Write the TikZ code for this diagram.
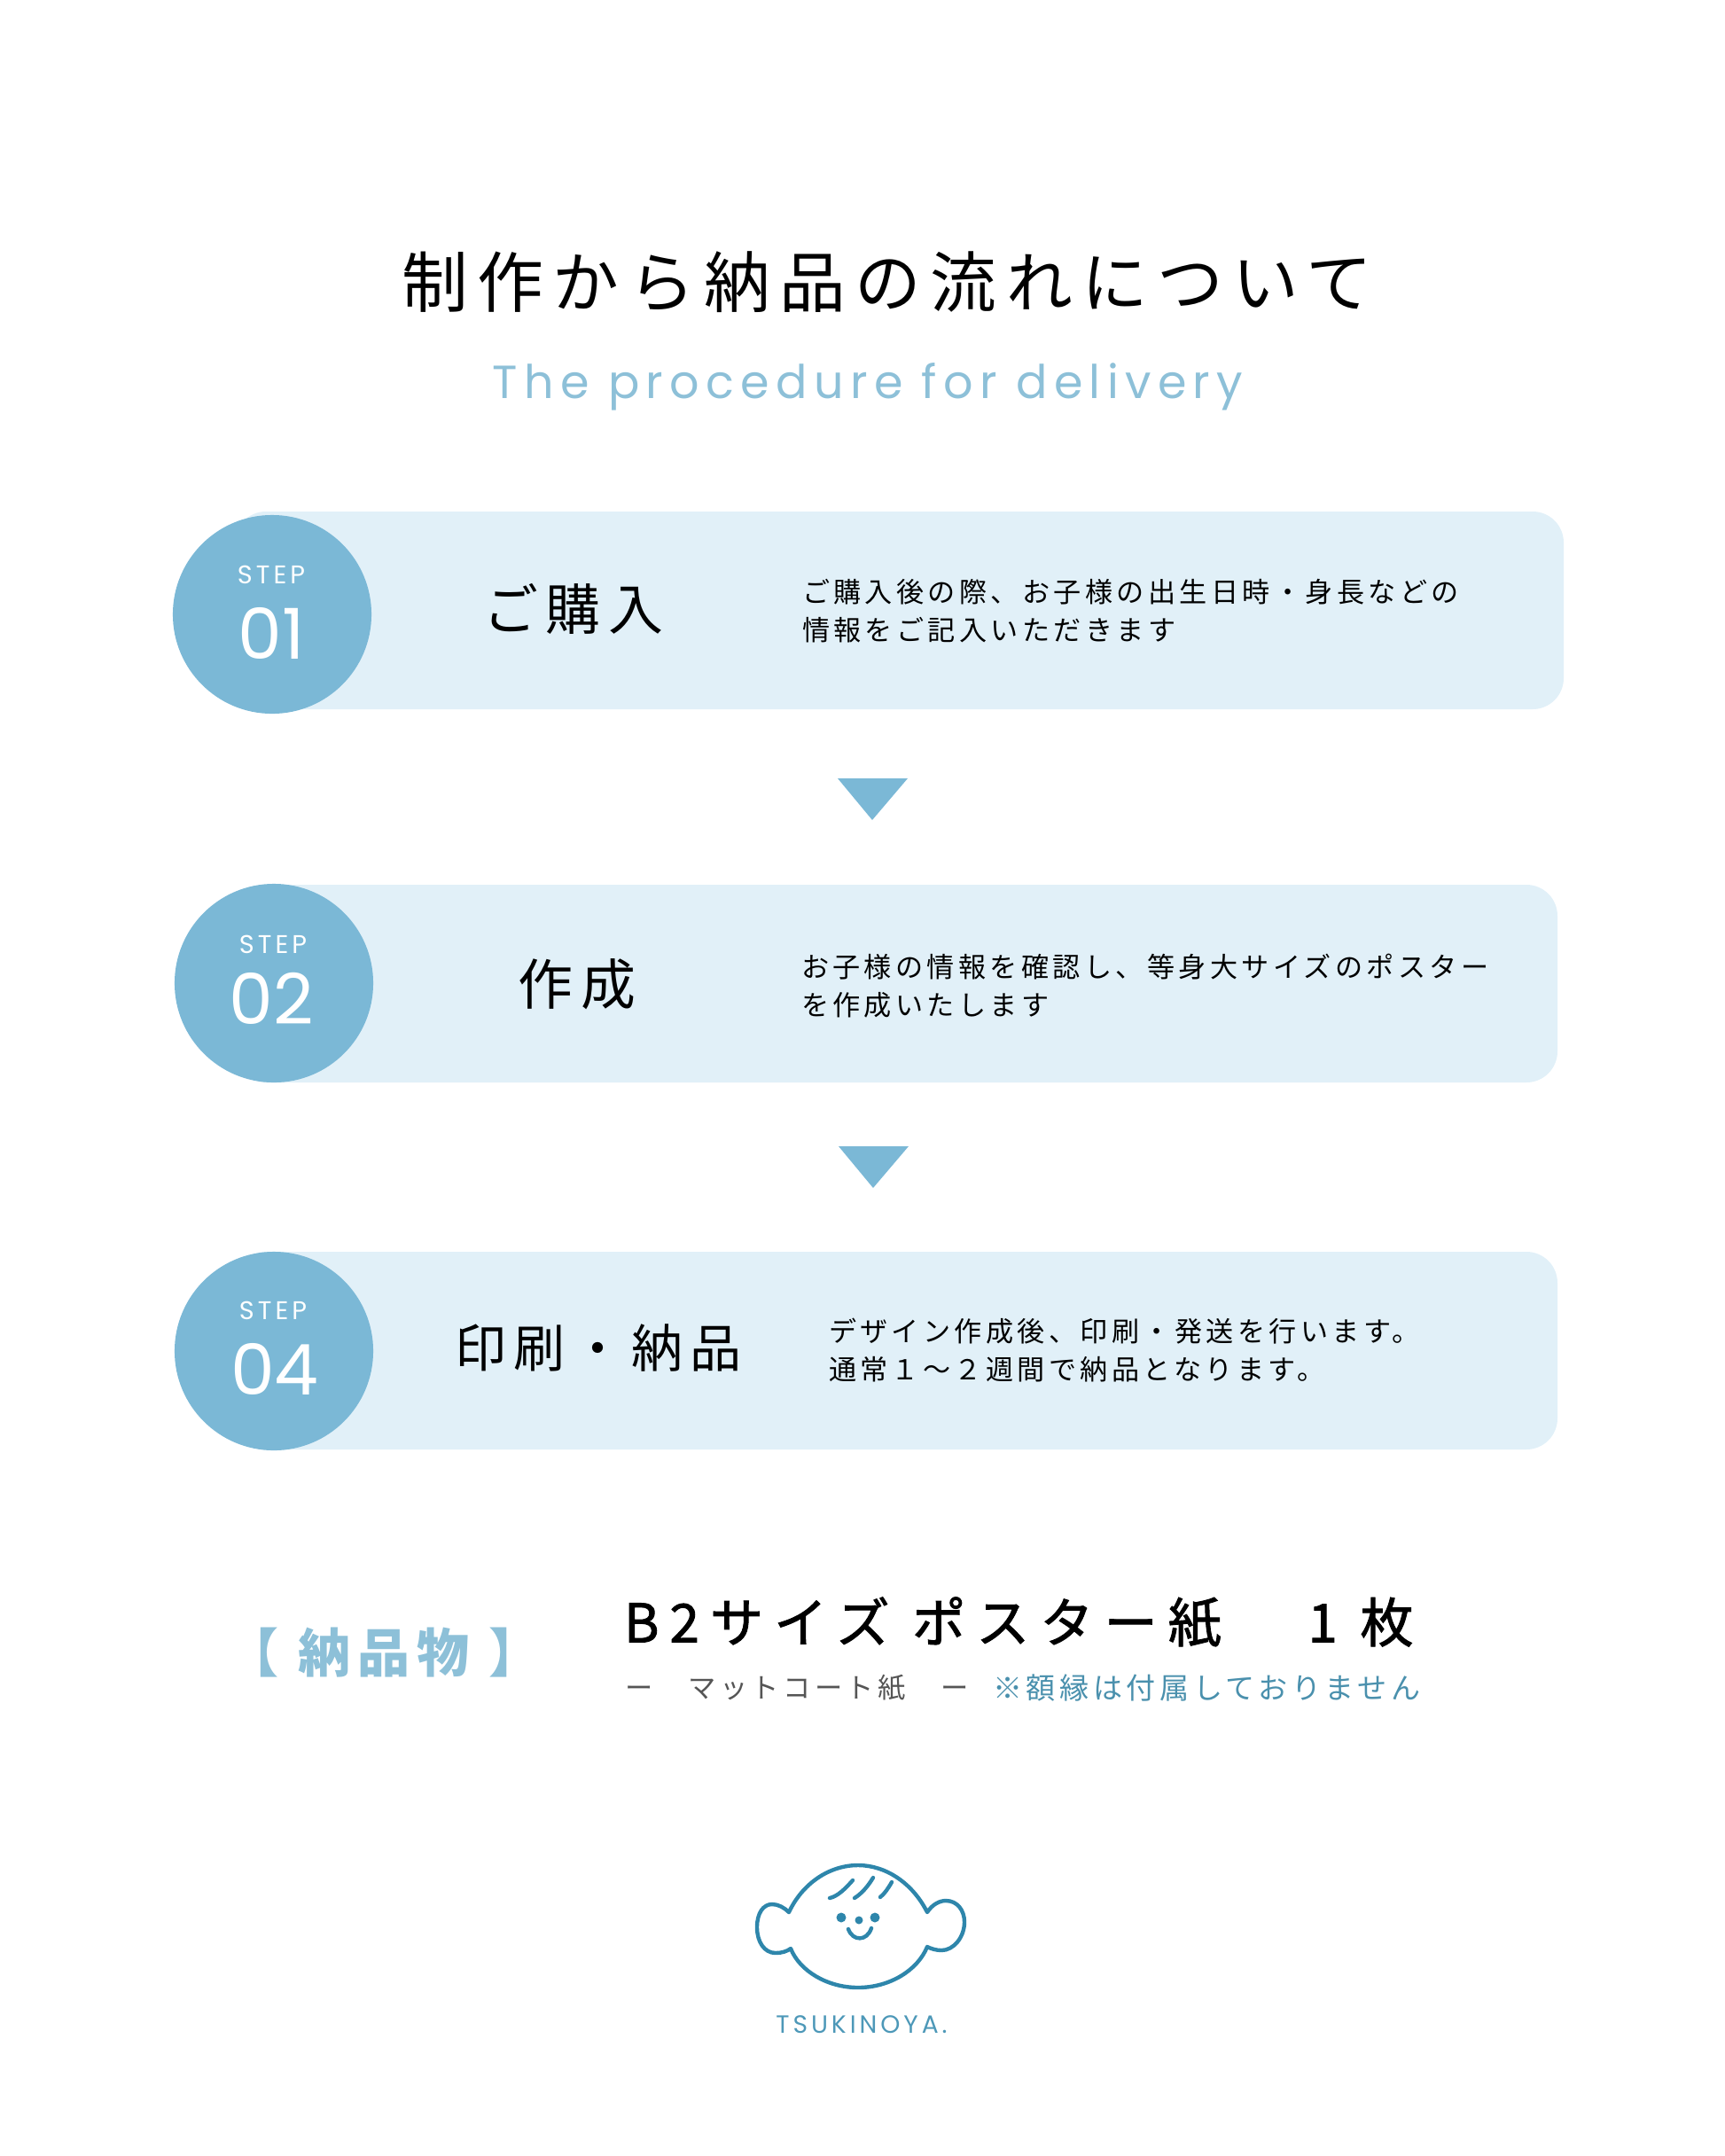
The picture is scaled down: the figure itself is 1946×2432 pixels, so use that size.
\documentclass[tikz,border=0pt]{standalone}
\usepackage{fontspec}
\newfontfamily\jpfont[LetterSpace=14]{Noto Sans CJK JP}
\newfontfamily\jpwide[LetterSpace=20,FakeBold=1.5]{Noto Sans CJK JP}
\newfontfamily\enfont[LetterSpace=14]{Poppins}
\newfontfamily\numfont{Poppins}
\definecolor{bandblue}{HTML}{E1F0F8}
\definecolor{dotblue}{HTML}{7BB8D6}
\definecolor{softblue}{HTML}{8DC0D8}
\definecolor{noteblue}{HTML}{4A90AD}
\definecolor{logoblue}{HTML}{2E86AB}
\definecolor{subgrey}{HTML}{555555}
\tikzset{
	txt/.style={inner sep=0pt,outer sep=0pt},
	stepdot/.style={circle,fill=dotblue,minimum size=2.24cm,inner sep=0pt},
	steptxt/.style={txt,text=white,font=\enfont\fontsize{8.2}{11}\selectfont},
	stepnum/.style={txt,text=white,font=\numfont\fontsize{22.5}{27}\selectfont},
	headtxt/.style={txt,font=\jpfont\fontsize{17.6}{21}\selectfont},
	desctxt/.style={txt,align=left,anchor=west,font=\jpfont\fontsize{8.85}{12.2}\selectfont},
	band/.style={fill=bandblue,rounded corners=0.35cm},
	tri/.style={fill=dotblue},
	logoline/.style={draw=logoblue,line width=1.25pt,line cap=round,line join=round}
}
\begin{document}
\begin{tikzpicture}[x=0.01cm,y=-0.01cm]
	\useasboundingbox (0,0) rectangle (1946,2432);
	\node[txt,font=\jpfont\fontsize{21.25}{25}\selectfont] (title) at (1001,318) {制作から納品の流れについて};
	\node[txt,text=softblue,font=\enfont\fontsize{14.9}{20}\selectfont] (subtitle) at (979,436) {The procedure for delivery};

	\fill[band] (265,577) rectangle (1764,800);
	\node[stepdot] (dot1) at (307,693) {};
	\node[steptxt] (step1) at (306,648) {STEP};
	\node[stepnum] (num1) at (306,714) {01};
	\node[headtxt] (head1) at (647,687) {ご購入};
	\node[desctxt] (desc1) at (905,689) {ご購入後の際、お子様の出生日時・身長などの\\情報をご記入いただきます};
	\fill[tri] (945,878) -- (1024,878) -- (984,925) -- cycle;

	\fill[band] (265,998) rectangle (1757,1221);
	\node[stepdot] (dot2) at (309,1109) {};
	\node[steptxt] (step2) at (308,1065) {STEP};
	\node[stepnum] (num2) at (306,1126) {02};
	\node[headtxt] (head2) at (651,1110) {作成};
	\node[desctxt] (desc2) at (904,1112) {お子様の情報を確認し、等身大サイズのポスター\\を作成いたします};
	\fill[tri] (946,1293) -- (1025,1293) -- (985,1340) -- cycle;

	\fill[band] (265,1412) rectangle (1757,1635);
	\node[stepdot] (dot3) at (309,1524) {};
	\node[steptxt] (step3) at (308,1478) {STEP};
	\node[stepnum] (num3) at (310,1544) {04};
	\node[headtxt,font=\jpfont\fontsize{16.5}{21}\selectfont] (head3) at (675,1520) {印刷・納品};
	\node[desctxt] (desc3) at (935,1523) {デザイン作成後、印刷・発送を行います。\\通常１～２週間で納品となります。};

	\node[txt,text=softblue,font=\jpfont\bfseries\fontsize{16.8}{20}\selectfont] (goods) at (433,1864) {【 納品物 】};
	\node[txt,anchor=west,font=\jpwide\fontsize{17.1}{20}\selectfont] (size) at (704,1830) {B2サイズ ポスター紙　 1 枚};
	\node[txt,anchor=west,text=subgrey,font=\jpfont\fontsize{8.9}{12}\selectfont] (paper) at (705,1904) {ー　マットコート紙　ー};
	\node[txt,anchor=west,text=noteblue,font=\jpfont\fontsize{9.4}{12}\selectfont] (note) at (1120,1904) {※額縁は付属しておりません};

	\draw[logoline] (890,2157) .. controls (905,2125) and (935,2104) .. (968,2104) .. controls (1000,2104) and (1030,2125) .. (1046,2157) .. controls (1052,2148) and (1060,2144) .. (1067,2144) .. controls (1080,2144) and (1088,2155) .. (1088,2168) .. controls (1088,2185) and (1076,2200) .. (1062,2200) .. controls (1056,2200) and (1050,2198) .. (1046,2196) .. controls (1035,2223) and (1003,2242) .. (968,2242) .. controls (933,2242) and (902,2223) .. (892,2198) .. controls (888,2201) and (882,2203) .. (875,2203) .. controls (862,2203) and (854,2190) .. (854,2174) .. controls (854,2158) and (861,2148) .. (871,2148) .. controls (878,2148) and (885,2152) .. (890,2157);
	\draw[logoline] (936,2141) .. controls (945,2139) and (953,2131) .. (962,2121);
	\draw[logoline] (964,2141) .. controls (972,2136) and (979,2128) .. (985,2118);
	\draw[logoline] (993,2140) .. controls (998,2136) and (1002,2130) .. (1006,2123);
	\fill[logoblue] (949,2163) circle (5.5) (987,2163) circle (5.5) (969,2166) circle (4.5);
	\draw[logoline] (957,2176) .. controls (962,2190) and (978,2190) .. (983,2175);
	\node[txt,text=logoblue!85,font=\enfont\fontsize{8}{10}\selectfont] (brand) at (972,2284) {TSUKINOYA.};
\end{tikzpicture}
\end{document}
